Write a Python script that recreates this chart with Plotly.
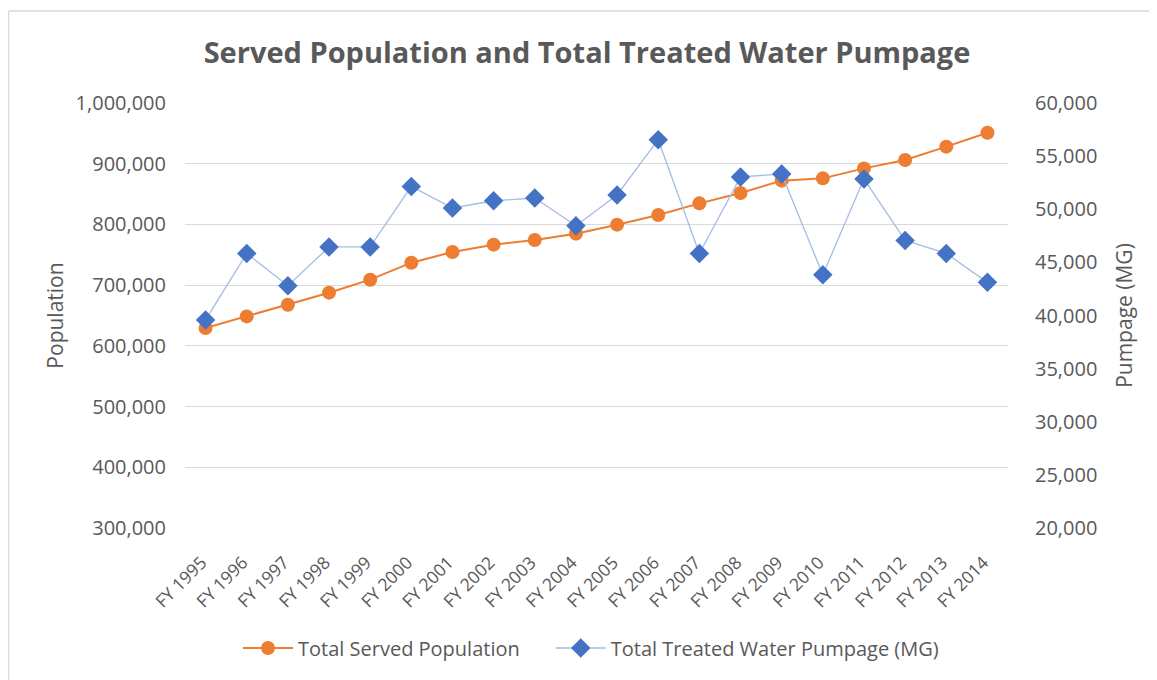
import plotly.graph_objects as go

years = ["FY 1995", "FY 1996", "FY 1997", "FY 1998", "FY 1999", "FY 2000", "FY 2001",
         "FY 2002", "FY 2003", "FY 2004", "FY 2005", "FY 2006", "FY 2007", "FY 2008",
         "FY 2009", "FY 2010", "FY 2011", "FY 2012", "FY 2013", "FY 2014"]
population = [629400, 648500, 667800, 687600, 709000, 737000, 754600, 766700, 774400, 784800,
              799600, 815600, 834700, 851800, 872100, 875900, 892300, 906200, 928100, 951100]
pumpage = [39580, 45840, 42800, 46450, 46450, 52150, 50120, 50800, 51060, 48450,
           51340, 56550, 45840, 53040, 53320, 43840, 52850, 47070, 45840, 43120]

OFF = 8  # page body margin
W, H = 1157 - OFF, 680 - OFF
L, R, T, B = 185, 1008, 103, 528  # plot area in page pixels
pw, ph = R - L, B - T

def px(x):
    return (x - L) / pw

def py(y):
    return (B - y) / ph

grey = "#595959"
font = "Open Sans"
NB = "\u00a0"

fig = go.Figure()
fig.add_trace(go.Scatter(
    x=years, y=population, name="Total Served Population" + NB * 5, mode="lines+markers",
    line=dict(color="#ED7D31", width=2),
    marker=dict(symbol="circle", size=14, color="#ED7D31"),
    yaxis="y"))
fig.add_trace(go.Scatter(
    x=years, y=pumpage, name="Total Treated Water Pumpage (MG)", mode="lines+markers",
    line=dict(color="#A4BCE6", width=1.3),
    marker=dict(symbol="diamond", size=15, color="#4472C4"),
    yaxis="y2"))

fig.update_layout(
    width=W, height=H,
    margin=dict(l=L - OFF, r=W - (R - OFF), t=T - OFF, b=H - (B - OFF), autoexpand=False),
    paper_bgcolor="white", plot_bgcolor="white",
    font=dict(family=font, color=grey, size=20),
    title=dict(text="<b>Served Population and Total Treated Water Pumpage</b>",
               xref="paper", x=px(587), xanchor="center", y=1 - (53 - OFF) / H,
               yanchor="middle", font=dict(size=29, color=grey, family=font)),
    xaxis=dict(type="category", range=[-0.5, 19.5], tickangle=-45, showgrid=False,
               showline=False, ticks="", tickfont=dict(size=17.5, color=grey),
               ticklabelshift=-4, ticklabelstandoff=20),
    yaxis=dict(range=[300000, 1000000], dtick=100000, tickformat=",d",
               showgrid=True, gridcolor="#D9D9D9", gridwidth=1, zeroline=False,
               ticks="", ticklabelstandoff=18, tickfont=dict(size=20, color=grey),
               title=dict(text="Population", font=dict(size=21, color=grey), standoff=6)),
    yaxis2=dict(range=[20000, 60000], dtick=5000, tickformat=",d", overlaying="y",
                side="right", showgrid=False, zeroline=False, ticks="",
                ticklabelstandoff=26, tickfont=dict(size=20, color=grey),
                title=dict(text="Pumpage (MG)", font=dict(size=21, color=grey), standoff=20)),
    legend=dict(orientation="h", x=px(591), xanchor="center", y=py(648), yanchor="middle",
                font=dict(size=20, color=grey), itemwidth=50, bgcolor="rgba(0,0,0,0)"),
    showlegend=True,
)

# chart border (top and left edges visible)
fig.add_shape(type="line", xref="paper", yref="paper", x0=px(OFF + 0.5), x1=px(1170),
              y0=py(11), y1=py(11), line=dict(color="#D9D9D9", width=1.5))
fig.add_shape(type="line", xref="paper", yref="paper", x0=px(OFF + 0.5), x1=px(OFF + 0.5),
              y0=py(11), y1=py(700), line=dict(color="#D9D9D9", width=1.5))

fig.write_html("out.html")
